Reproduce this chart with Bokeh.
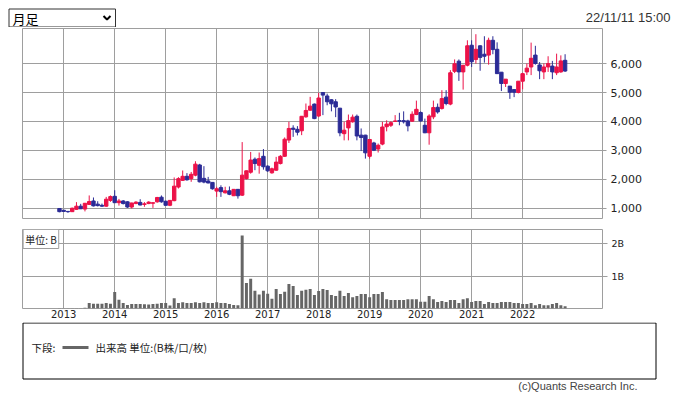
import pandas as pd
from bokeh.plotting import figure
from bokeh.layouts import column
from bokeh.models import Range1d, FixedTicker, NumeralTickFormatter, Label, ColumnDataSource
from bokeh.core.properties import value
from bokeh.embed import file_html
from bokeh.resources import INLINE

# ---- data (monthly candles, Dec 2012 .. Nov 2022) ----
months = [str(m) for m in pd.period_range("2012-12", "2022-11", freq="M")]
open_ = [1000, 940, 900, 890, 970, 1080, 980, 1140, 1260, 1150, 1110, 1080, 1280,
         1420, 1200, 1260, 1230, 1050, 1170, 1210, 1140, 1170, 1180, 1230, 1390,
         1250, 1110, 1270, 1740, 1970, 2110, 2030, 2150, 2500, 2040, 1950, 1900,
         1600, 1720, 1540, 1610, 1440, 1660, 1460, 2030, 2250, 2700, 2490, 2800,
         2460, 2230, 2320, 2550, 2800, 3360, 3770, 3730, 3680, 4160, 4390, 4600,
         4190, 5000, 4880, 4750, 4680, 4460, 3580, 3780, 3990, 4180, 3530, 3530,
         2800, 3260, 3050, 3220, 3820, 3870, 4000, 4030, 4030, 4020, 4010, 4240,
         4310, 3870, 3610, 4160, 4490, 4450, 4840, 4600, 5730, 6080, 5710, 5940,
         6630, 6140, 6610, 6320, 6290, 6800, 6490, 5700, 5310, 5220, 5100, 5000,
         5390, 5710, 5880, 6290, 5950, 5710, 5880, 5910, 5680, 5710, 6110]
high = [1010, 950, 905, 1030, 1220, 1160, 1190, 1450, 1380, 1250, 1170, 1400, 1450,
        1630, 1330, 1290, 1250, 1200, 1250, 1320, 1220, 1250, 1210, 1400, 1450,
        1270, 1290, 2070, 2080, 2310, 2220, 2260, 2630, 2540, 2460, 2090, 1900,
        1750, 1800, 1750, 1760, 1670, 1670, 3290, 2310, 2950, 2760, 2930, 3050,
        2490, 2410, 2780, 2840, 3450, 3990, 3870, 3840, 4190, 4620, 4850, 4620,
        4990, 5010, 4960, 4770, 4770, 4460, 3990, 4240, 4240, 4240, 3760, 3540,
        3390, 3300, 3240, 3990, 4040, 4010, 4220, 4300, 4350, 4060, 4350, 4720,
        4350, 4100, 4250, 4720, 4620, 5080, 5080, 5770, 6140, 6140, 5950, 6800,
        6800, 7010, 6630, 6940, 6890, 6940, 6730, 5700, 5460, 5220, 5100, 5390,
        5680, 6000, 6720, 6610, 6050, 6000, 6250, 6090, 6340, 6280, 6320]
low = [870, 880, 850, 880, 960, 980, 900, 1120, 1070, 1070, 1060, 1060, 1230,
       1190, 1100, 1140, 1020, 1000, 1150, 1110, 1060, 1150, 1020, 1200, 1200,
       1100, 1080, 1250, 1690, 1950, 1960, 1920, 2110, 1900, 1870, 1870, 1650,
       1400, 1400, 1520, 1460, 1430, 1340, 1430, 2000, 2200, 2320, 2200, 2340,
       2260, 2200, 2300, 2520, 2780, 3260, 3470, 3520, 3530, 4130, 4370, 4080,
       4150, 4220, 4560, 4350, 4150, 3490, 3350, 3350, 3960, 3350, 2980, 2720,
       2720, 2980, 2930, 3180, 3660, 3810, 3990, 3870, 3930, 3660, 3990, 4220,
       3990, 3600, 3200, 4080, 4270, 4410, 4560, 4560, 5670, 5400, 5100, 5900,
       5880, 6000, 5750, 6030, 5960, 6320, 5650, 5050, 5190, 4780, 4840, 4970,
       5110, 5600, 5600, 5960, 5460, 5460, 5710, 5460, 5600, 5680, 5710]
close = [890, 900, 890, 1010, 1080, 990, 1180, 1240, 1090, 1100, 1080, 1320, 1410,
         1200, 1260, 1170, 1050, 1190, 1220, 1120, 1160, 1220, 1200, 1380, 1230,
         1110, 1280, 1770, 2030, 2110, 1990, 2180, 2530, 1920, 1910, 1880, 1680,
         1680, 1580, 1610, 1490, 1660, 1440, 2150, 2300, 2670, 2550, 2720, 2440,
         2300, 2370, 2600, 2800, 3390, 3760, 3730, 3630, 4180, 4380, 4530, 4100,
         4810, 4910, 4680, 4610, 4500, 3610, 3700, 4030, 4150, 3500, 3450, 2920,
         3380, 3010, 3180, 3810, 3910, 3960, 4020, 4010, 3990, 3850, 4250, 4420,
         4020, 3610, 4190, 4480, 4330, 4790, 4620, 5680, 5990, 5710, 5940, 6610,
         6060, 6490, 6210, 6250, 6800, 6480, 5650, 5310, 5460, 5010, 5010, 5390,
         5650, 5840, 6180, 6000, 5750, 5880, 6000, 5710, 5880, 6090, 5740]
volume_b = [0.01, 0.01, 0.01, 0.01, 0.01, 0.01, 0.02,
            0.17, 0.15, 0.15, 0.15, 0.17, 0.15,
            0.51, 0.27, 0.17, 0.11,
            0.14, 0.14, 0.14, 0.13, 0.12, 0.14, 0.15, 0.17, 0.17, 0.09,
            0.32,
            0.17, 0.19, 0.17, 0.17, 0.19, 0.17, 0.19, 0.17, 0.17, 0.19, 0.17, 0.17, 0.14, 0.11, 0.10,
            2.26,
            0.79, 0.92, 0.55, 0.43, 0.55, 0.46, 0.30, 0.60, 0.45, 0.52, 0.76, 0.70, 0.42, 0.55,
            0.58, 0.60, 0.42, 0.54, 0.60, 0.57,
            0.42, 0.39, 0.55, 0.39, 0.48, 0.35, 0.39, 0.45, 0.45, 0.35, 0.45, 0.45, 0.51, 0.29,
            0.26, 0.26, 0.26, 0.26, 0.29, 0.29, 0.29,
            0.21, 0.21, 0.39, 0.29, 0.20, 0.23, 0.20, 0.26, 0.26, 0.17, 0.29, 0.32, 0.20, 0.23,
            0.23, 0.14, 0.20, 0.17, 0.17, 0.20, 0.20, 0.20, 0.17, 0.17, 0.14, 0.14, 0.17, 0.10,
            0.14, 0.10, 0.10, 0.14, 0.17, 0.10, 0.07]
year_labels = ["2013", "2014", "2015", "2016", "2017", "2018", "2019", "2020", "2021", "2022"]
price_ticks = [1000, 2000, 3000, 4000, 5000, 6000]
volume_ticks = [1, 2]

n = len(months)
assert all(len(a) == n for a in (open_, high, low, close, volume_b))

base = pd.Period("2013-01", freq="M")
xpos = [(pd.Period(m, freq="M") - base).n for m in months]
year_pos = [(pd.Period(y + "-01", freq="M") - base).n for y in year_labels]

UP = "#EC1248"
DOWN = "#2B2B96"
GRID = "#9E9E9E"
colors = [UP if c >= o else DOWN for o, c in zip(open_, close)]
src = ColumnDataSource(dict(
    x=xpos, o=open_, h=high, l=low, c=close,
    top=[max(o, c) for o, c in zip(open_, close)],
    bot=[min(o, c) for o, c in zip(open_, close)],
    col=colors, vol=volume_b))

XL, XR = -9.7, 126.8
W = 677
LB, RB = 22, 75  # frame: 580 px wide (x 22..602)
COMMON = dict(output_backend="svg", toolbar_location=None, frame_align=False)


def style_common(fig):
    fig.outline_line_color = GRID
    fig.outline_line_alpha = 1
    fig.grid.grid_line_color = GRID
    fig.grid.grid_line_alpha = 1


# ---- header (page y 0..27) ----
HH = 27
hdr = figure(width=W, height=HH, x_range=Range1d(0, W), y_range=Range1d(HH, 0),
             x_axis_type=None, y_axis_type=None, min_border_left=0, min_border_right=0,
             min_border_top=0, min_border_bottom=0, outline_line_color=None, **COMMON)
hdr.grid.visible = False
hdr.quad(left=[8.5], right=[115], top=[8.5], bottom=[26.5], fill_color="white",
         line_color="#333333", line_width=1)
hdr.text(x=[12], y=[18], text=["月足"], text_font=value("Noto Sans CJK JP"),
         text_font_size="13px", text_baseline="middle", text_color="black")
hdr.line(x=[103, 106.5, 110], y=[15.5, 19, 15.5], line_width=2, line_color="black")
hdr.text(x=[670], y=[17], text=["22/11/11 15:00"], text_font=value("Liberation Sans"),
         text_font_size="13px", text_baseline="middle", text_align="right", text_color="#333333")

# ---- main candle chart (page y 27..228, frame 28..218) ----
p = figure(width=W, height=201, x_range=Range1d(XL, XR), y_range=Range1d(655, 7207),
           y_axis_location="right", min_border_left=LB, min_border_right=RB,
           min_border_top=1, min_border_bottom=10, **COMMON)
p.xaxis.visible = False
style_common(p)
p.xgrid.ticker = FixedTicker(ticks=year_pos)
p.ygrid.ticker = FixedTicker(ticks=price_ticks)
p.yaxis.ticker = FixedTicker(ticks=price_ticks)
p.yaxis.formatter = NumeralTickFormatter(format="0,0")
p.yaxis.axis_line_color = None
p.yaxis.major_tick_line_color = GRID
p.yaxis.major_tick_out = 4
p.yaxis.major_tick_in = 0
p.yaxis.minor_tick_line_color = None
p.yaxis.major_label_standoff = 4
p.yaxis.major_label_text_font = "DejaVu Sans"
p.yaxis.major_label_text_font_size = "11px"
p.yaxis.major_label_text_color = "#222222"
p.segment(x0="x", y0="l", x1="x", y1="h", color="col", line_width=1, source=src)
p.vbar(x="x", top="top", bottom="bot", width=0.8, fill_color="col", line_color="col",
       line_width=1, source=src)

# ---- volume chart (page y 228..322, frame 229..308) ----
v = figure(width=W, height=94, x_range=p.x_range, y_range=Range1d(0, 2.446),
           y_axis_location="right", min_border_left=LB, min_border_right=RB,
           min_border_top=1, min_border_bottom=14, **COMMON)
style_common(v)
v.xgrid.ticker = FixedTicker(ticks=year_pos)
v.ygrid.ticker = FixedTicker(ticks=volume_ticks)
v.xaxis.ticker = FixedTicker(ticks=year_pos)
v.xaxis.major_label_overrides = {p_: y for p_, y in zip(year_pos, year_labels)}
v.xaxis.axis_line_color = None
v.xaxis.major_tick_line_color = None
v.xaxis.major_tick_out = 0
v.xaxis.major_tick_in = 0
v.xaxis.minor_tick_line_color = None
v.xaxis.major_label_standoff = 1
v.xaxis.major_label_text_font = "DejaVu Sans"
v.xaxis.major_label_text_font_size = "10px"
v.xaxis.major_label_text_color = "#222222"
v.yaxis.ticker = FixedTicker(ticks=volume_ticks)
v.yaxis.major_label_overrides = {t: f"{t}B" for t in volume_ticks}
v.yaxis.axis_line_color = None
v.yaxis.major_tick_line_color = GRID
v.yaxis.major_tick_out = 5
v.yaxis.major_tick_in = 0
v.yaxis.minor_tick_line_color = None
v.yaxis.major_label_standoff = 4
v.yaxis.major_label_text_font = "DejaVu Sans"
v.yaxis.major_label_text_font_size = "9.5px"
v.yaxis.major_label_text_color = "#222222"
v.vbar(x="x", top="vol", bottom=0, width=0.7, fill_color="#666666", line_color=None, source=src)
v.add_layout(Label(x=XL + 0.15, y=2.446, text="単位: B", text_baseline="top",
                   text_font="Noto Sans CJK JP", text_font_size="10px", text_color="#222222",
                   background_fill_color="white", border_line_color=GRID, padding=2))

# ---- legend / footer (page y 322..395) ----
LH = 73
lg = figure(width=W, height=LH, x_range=Range1d(0, W), y_range=Range1d(LH, 0),
            x_axis_type=None, y_axis_type=None, min_border_left=0, min_border_right=0,
            min_border_top=0, min_border_bottom=0, outline_line_color=None, **COMMON)
lg.grid.visible = False
lg.quad(left=[22.5], right=[655.5], top=[0.5], bottom=[56.5], fill_color=None,
        line_color="black", line_width=1)
lg.text(x=[31], y=[25], text=["下段:"], text_font=value("Noto Sans CJK JP"),
        text_font_size="10.5px", text_baseline="middle", text_color="#222222")
lg.line(x=[62, 88], y=[25, 25], line_width=3, line_color="#666666")
lg.text(x=[95], y=[25], text=["出来高 単位:(B株/口/枚)"], text_font=value("Noto Sans CJK JP"),
        text_font_size="10.5px", text_baseline="middle", text_color="#222222")
lg.text(x=[637], y=[63], text=["(c)Quants Research Inc."], text_font=value("Liberation Sans"),
        text_font_size="11px", text_baseline="middle", text_align="right", text_color="#444444")

layout = column(hdr, p, v, lg, spacing=0)
open("out.html", "w").write(file_html(layout, INLINE))
